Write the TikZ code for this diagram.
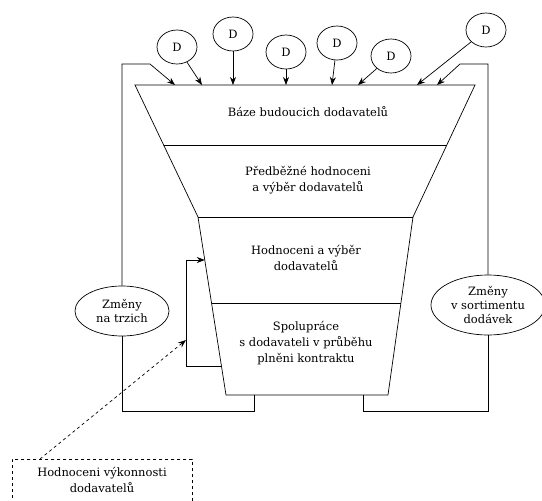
\documentclass[tikz,border=0pt]{standalone}
\usepackage{fontspec}
\setmainfont{DejaVu Serif}
\usetikzlibrary{arrows.meta,calc,shapes.geometric}
\begin{document}
\begin{tikzpicture}[x=1pt,y=-1pt,
  line width=0.7pt,
  font=\fontsize{11.5}{16}\selectfont,
  arr/.style={-{Stealth[length=8pt,width=6pt]}},
  supplier/.style={draw,ellipse,minimum width=40pt,minimum height=34pt,inner sep=0pt},
  change/.style={draw,ellipse,align=center,inner sep=0pt},
  label/.style={align=center,inner sep=0pt},
  report/.style={draw,dashed,align=center,inner sep=0pt}]
\path[use as bounding box,clip] (0,0) rectangle (542,501);

% funnel outline
\coordinate (TL) at (135,85);
\coordinate (TR) at (475,85);
\coordinate (ML) at (198,217);
\coordinate (MR) at (413,217);
\coordinate (BL) at (226,395);
\coordinate (BR) at (388,395);
\draw (TL) -- (TR) -- (MR) -- (BR) -- (BL) -- (ML) -- cycle;
% stage dividers
\draw ($(TL)!0.4545!(ML)$) -- ($(TR)!0.4545!(MR)$);
\draw (ML) -- (MR);
\draw ($(ML)!0.483!(BL)$) -- ($(MR)!0.483!(BR)$);

% stage labels
\node[label] (s1) at (308,112) {Báze budoucich dodavatelů};
\node[label] (s2) at (308,180) {Předběžné hodnoceni\\a výběr dodavatelů};
\node[label] (s3) at (306,258) {Hodnoceni a výběr\\dodavatelů};
\node[label] (s4) at (306,343) {Spolupráce\\s dodavateli v průběhu\\plněni kontraktu};

% suppliers entering the funnel
\node[supplier] (d1) at (177,47) {D};
\node[supplier] (d2) at (233,34) {D};
\node[supplier] (d3) at (286,52) {D};
\node[supplier] (d4) at (337,43) {D};
\node[supplier] (d5) at (391,56) {D};
\node[supplier] (d6) at (486,30) {D};
\coordinate (e1) at (202,85);
\coordinate (e2) at (233,85);
\coordinate (e3) at (286,85);
\coordinate (e4) at (332,85);
\coordinate (e5) at (358,85);
\coordinate (e6) at (417,85);
\draw[arr] (d1) -- (e1);
\draw[arr] (d2) -- (e2);
\draw[arr] (d3) -- (e3);
\draw[arr] (d4) -- (e4);
\draw[arr] (d5) -- (e5);
\draw[arr] (d6) -- (e6);

% side loops with market / assortment changes
\node[change,minimum width=94pt,minimum height=50pt] (zl) at (122,311) {Změny\\[-2pt]na trzich};
\node[change,minimum width=114pt,minimum height=60pt] (zr) at (488,305) {Změny\\[-2pt]v sortimentu\\[-2pt]dodávek};

\coordinate (lb) at (254,395);
\coordinate (lt) at (150,64);
\coordinate (le) at (175,85);
\draw (lb) -- (254,411) -| (zl.south);
\draw[arr] (zl.north) |- (lt) -- (le);

\coordinate (rb) at (363,395);
\coordinate (rt) at (460,64);
\coordinate (re) at (437,85);
\draw (rb) -- (363,411) -| (zr.south);
\draw[arr] (zr.north) |- (rt) -- (re);

% internal feedback loop
\coordinate (fb1) at (221.5,366);
\coordinate (fb2) at (204.8,260);
\coordinate (fj) at (186,340);
\draw[arr] (fb1) -- (186,366) -- (186,260) -- (fb2);

% performance evaluation
\node[report,minimum width=180pt,minimum height=60pt,anchor=north west] (rep) at (12,459) {};
\node[label] (reptxt) at (102,480) {Hodnoceni výkonnosti\\dodavatelů};
\coordinate (rs) at (40,459);
\draw[arr,dashed] (rs) -- (fj);
\end{tikzpicture}
\end{document}
